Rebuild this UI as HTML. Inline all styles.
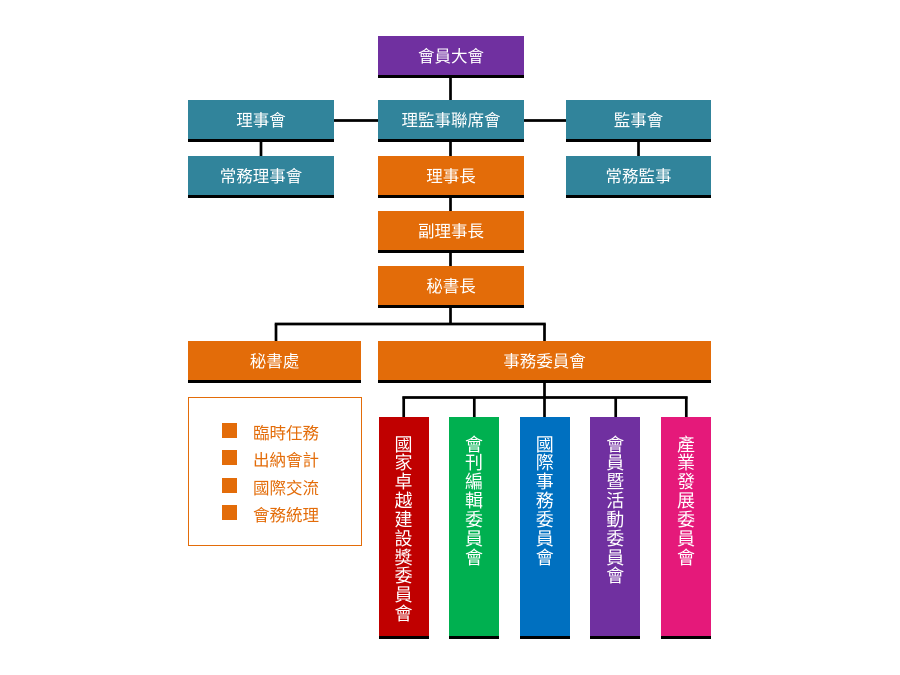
<!DOCTYPE html>
<html>
<head>
<meta charset="utf-8">
<style>
  html,body{margin:0;padding:0;background:#fff;}
  body{width:900px;height:675px;position:relative;overflow:hidden;
       font-family:"Liberation Sans","Noto Sans CJK TC","Noto Sans CJK SC",sans-serif;}
  .b{position:absolute;box-sizing:border-box;color:#fff;text-align:center;
     font-size:16.5px;border-bottom:3px solid #000;padding-top:2.5px;}
  .teal{background:#31849B;}
  .org{background:#E36C09;}
  .pur{background:#7030A0;}
  .v{position:absolute;top:417px;height:222px;box-sizing:border-box;border-bottom:3px solid #000;}
  .vt{position:absolute;top:18.5px;left:0;right:0;margin:0 auto;width:18px;color:#fff;
      font-size:18px;line-height:18.85px;word-break:break-all;text-align:center;}
  svg{position:absolute;left:0;top:0;}
  .info{position:absolute;left:188px;top:397px;width:174px;height:149px;box-sizing:border-box;
        border:1.5px solid #E36C09;}
  .it{position:absolute;left:34px;height:16px;color:#E36C09;font-size:16.5px;line-height:16px;}
  .sq{position:absolute;left:-1px;width:14.5px;height:15px;background:#E36C09;}
  .tx{position:absolute;left:30px;top:-5px;white-space:nowrap;line-height:32px;}
</style>
</head>
<body>
<svg width="900" height="675">
  <g stroke="#000" stroke-width="2.7" fill="none">
    <line x1="450.5" y1="76" x2="450.5" y2="101"/>
    <line x1="450.5" y1="140" x2="450.5" y2="157"/>
    <line x1="450.5" y1="196" x2="450.5" y2="212"/>
    <line x1="450.5" y1="251" x2="450.5" y2="267"/>
    <line x1="450.5" y1="306" x2="450.5" y2="324"/>
    <line x1="333" y1="120.5" x2="379" y2="120.5"/>
    <line x1="523" y1="120.5" x2="567" y2="120.5"/>
    <line x1="261" y1="140" x2="261" y2="157"/>
    <line x1="638.5" y1="140" x2="638.5" y2="157"/>
    <line x1="274.7" y1="324" x2="545.8" y2="324"/>
    <line x1="276" y1="324" x2="276" y2="342"/>
    <line x1="544.5" y1="324" x2="544.5" y2="342"/>
    <line x1="544.5" y1="381" x2="544.5" y2="418"/>
    <line x1="402.3" y1="397.5" x2="687.7" y2="397.5"/>
    <line x1="403.7" y1="397" x2="403.7" y2="418"/>
    <line x1="474.3" y1="397" x2="474.3" y2="418"/>
    <line x1="615.7" y1="397" x2="615.7" y2="418"/>
    <line x1="686.3" y1="397" x2="686.3" y2="418"/>
  </g>
</svg>

<div class="b pur" style="left:378px;top:36px;width:146px;height:42px;line-height:36px;">會員大會</div>
<div class="b teal" style="left:378px;top:100px;width:146px;height:42px;line-height:36px;">理監事聯席會</div>
<div class="b teal" style="left:188px;top:100px;width:146px;height:42px;line-height:36px;">理事會</div>
<div class="b teal" style="left:566px;top:100px;width:145px;height:42px;line-height:36px;">監事會</div>
<div class="b teal" style="left:188px;top:156px;width:146px;height:42px;line-height:36px;">常務理事會</div>
<div class="b org" style="left:378px;top:156px;width:146px;height:42px;line-height:36px;">理事長</div>
<div class="b teal" style="left:566px;top:156px;width:145px;height:42px;line-height:36px;">常務監事</div>
<div class="b org" style="left:378px;top:211px;width:146px;height:42px;line-height:36px;">副理事長</div>
<div class="b org" style="left:378px;top:266px;width:146px;height:42px;line-height:36px;">秘書長</div>
<div class="b org" style="left:188px;top:341px;width:173px;height:42px;line-height:36px;">秘書處</div>
<div class="b org" style="left:378px;top:341px;width:333px;height:42px;line-height:36px;">事務委員會</div>

<div class="info">
  <div class="it" style="top:24.5px;"><div class="sq"></div><div class="tx">臨時任務</div></div>
  <div class="it" style="top:52px;"><div class="sq"></div><div class="tx">出納會計</div></div>
  <div class="it" style="top:79.5px;"><div class="sq"></div><div class="tx">國際交流</div></div>
  <div class="it" style="top:107px;"><div class="sq"></div><div class="tx">會務統理</div></div>
</div>

<div class="v" style="left:378.5px;width:50px;background:#C00000;"><div class="vt">國家卓越建設獎委員會</div></div>
<div class="v" style="left:449px;width:50px;background:#00B050;"><div class="vt">會刊編輯委員會</div></div>
<div class="v" style="left:519.7px;width:50px;background:#0070C0;"><div class="vt">國際事務委員會</div></div>
<div class="v" style="left:590.3px;width:50px;background:#7030A0;"><div class="vt">會員暨活動委員會</div></div>
<div class="v" style="left:661px;width:50px;background:#E5197A;"><div class="vt">產業發展委員會</div></div>
</body>
</html>
